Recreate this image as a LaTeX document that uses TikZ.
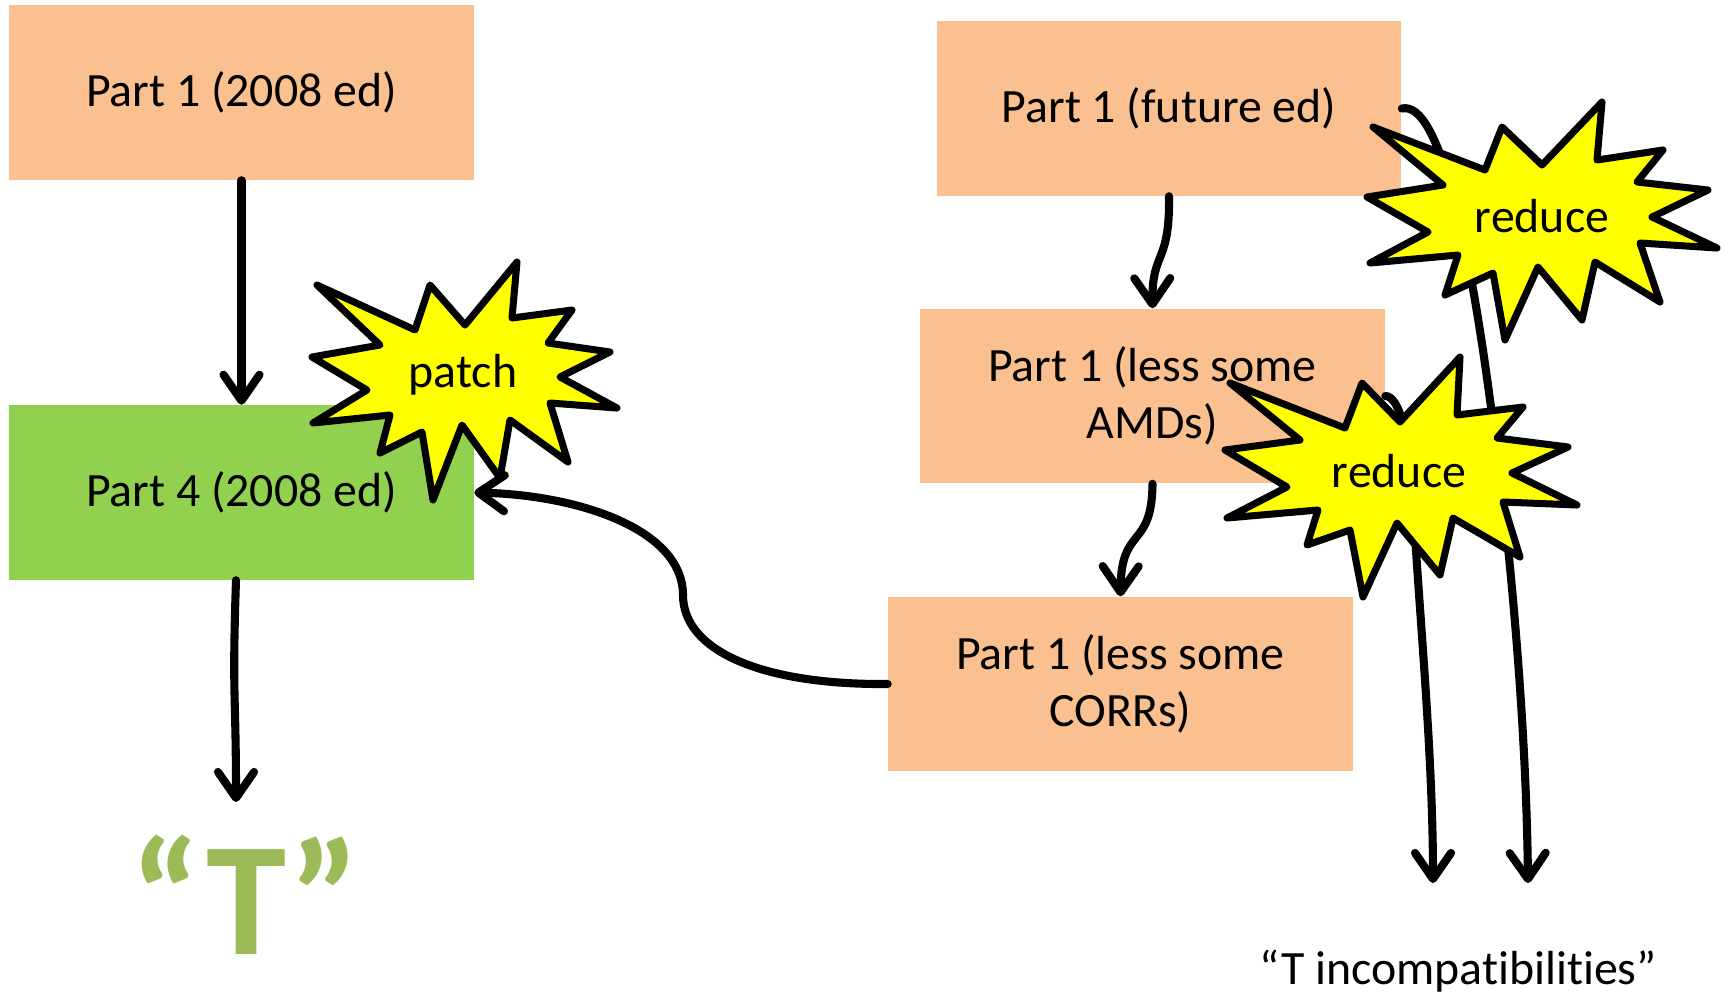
\documentclass[tikz,border=0pt]{standalone}
\usepackage{fontspec}
\setmainfont{Carlito}[Ligatures=NoCommon]
\usetikzlibrary{arrows.meta}
\definecolor{cpart}{HTML}{FAC090}
\definecolor{cpatched}{HTML}{92D050}
\definecolor{cburst}{HTML}{FFFF00}
\definecolor{ctee}{HTML}{9BBB59}
\tikzset{
  part/.style={minimum width=4.64cm, minimum height=1.74cm, inner sep=0pt, align=center, font=\fontsize{13.6}{16.2}\selectfont},
  partold/.style={part, fill=cpart},
  partpatched/.style={part, fill=cpatched},
  flow/.style={-{Straight Barb[length=2.6mm,width=3.6mm,round]}, line width=2.3pt, line cap=round},
  burst/.style={draw, fill=cburst, line width=2pt, line join=round},
  bursttext/.style={font=\fontsize{13.6}{16.2}\selectfont},
  lbl/.style={font=\fontsize{13.6}{16.2}\selectfont, anchor=base, inner sep=0pt},
}
\begin{document}
\begin{tikzpicture}[x=0.01cm,y=-0.01cm]
\useasboundingbox (0,0) rectangle (1727,996);
% boxes
\node[partold] (oldone) at (241.5,92.5) {Part 1 (2008 ed)};
\node[partpatched] (oldfour) at (241.5,492.5) {Part 4 (2008 ed)};
\node[partold] (futone) at (1169,108.5) {Part 1 (future ed)};
\node[partold] (lessamd) at (1152.5,396) {Part 1 (less some\\AMDs)};
\node[partold] (lesscorr) at (1120.5,684) {Part 1 (less some\\CORRs)};
\node[lbl, font=\bfseries\fontsize{46}{50}\selectfont, text=ctee, text depth=0pt] (tee) at (245,954) {“T”};
\node[lbl] (incompat) at (1458,984) {“T incompatibilities”};
\coordinate (teeend) at (236,802);
\coordinate (amdend) at (1433,883);
\coordinate (futend) at (1528,883);
% connectors
\draw[flow] (oldone.south) -- (oldfour.north);
\draw[flow] (oldfour.south -| teeend) .. controls (232,700) and (236,690) .. (teeend);
\draw[flow] (futone.south) .. controls (1170,265) and (1152,250) .. (lessamd.north);
\draw[flow] (lessamd.south) .. controls (1152,550) and (1121,525) .. (lesscorr.north);
\draw[flow] (lesscorr.west) .. controls (760,685) and (683,650) .. (683,595)
  .. controls (683,530) and (580,495) .. (oldfour.east);
\draw[flow] (futone.east) .. controls (1440,100) and (1470,250) .. (1490,400)
  .. controls (1505,500) and (1526,700) .. (futend);
\draw[flow] (lessamd.east) .. controls (1400,396) and (1410,440) .. (1413,500)
  .. controls (1418,600) and (1433,750) .. (amdend);
% bursts
\draw[burst] (317,285) -- (415,330) -- (430,285) -- (465,325) -- (517,262) -- (512,318)
  -- (572,310) -- (548,343) -- (610,352) -- (560,377) -- (617,408) -- (550,403)
  -- (568,462) -- (510,420) -- (500,478) -- (462,425) -- (433,500) -- (422,432)
  -- (380,453) -- (390,415) -- (313,423) -- (367,390) -- (312,357) -- (380,345) -- cycle;
\node[bursttext] (patch) at (463,375) {patch};
\draw[burst] (1373,127) -- (1485,170) -- (1502,127) -- (1542,165) -- (1602,102) -- (1597,160)
  -- (1663,150) -- (1637,182) -- (1708,190) -- (1652,217) -- (1717,248) -- (1640,243)
  -- (1660,302) -- (1595,262) -- (1582,320) -- (1538,267) -- (1505,340) -- (1493,273)
  -- (1445,295) -- (1458,255) -- (1370,263) -- (1428,232) -- (1367,197) -- (1443,185) -- cycle;
\node[bursttext] (reducefut) at (1542,216) {reduce};
\draw[burst] (1230,383) -- (1345,428) -- (1362,383) -- (1400,422) -- (1460,357) -- (1457,415)
  -- (1523,407) -- (1497,438) -- (1568,447) -- (1512,473) -- (1577,505) -- (1503,502)
  -- (1520,557) -- (1453,518) -- (1440,575) -- (1397,523) -- (1363,597) -- (1350,530)
  -- (1307,545) -- (1318,510) -- (1227,518) -- (1287,487) -- (1225,450) -- (1300,440) -- cycle;
\node[bursttext] (reduceamd) at (1399,471) {reduce};
\end{tikzpicture}
\end{document}
